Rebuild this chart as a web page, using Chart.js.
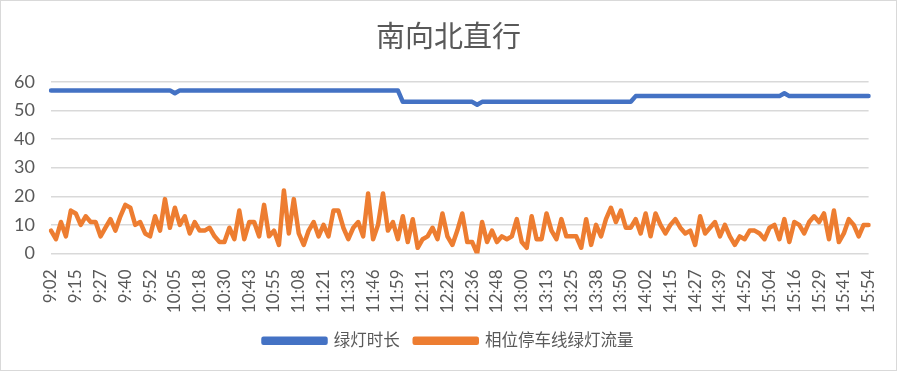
<!DOCTYPE html>
<html>
<head>
<meta charset="utf-8">
<script src="https://cdn.jsdelivr.net/npm/chart.js@4"></script>
<style>
  html, body { margin: 0; padding: 0; background: #fff; }
  #wrap { width: 897px; height: 371px; }
</style>
</head>
<body>
<div id="wrap"><canvas id="chart" width="897" height="371"></canvas></div>
<script>
'use strict';

// tick labels shown on the x axis (one every 5 signal cycles)
const timeLabels = [
  '9:02', '9:15', '9:27', '9:40', '9:52', '10:05', '10:18', '10:30', '10:43', '10:55',
  '11:08', '11:21', '11:33', '11:46', '11:59', '12:11', '12:23', '12:36', '12:48', '13:00',
  '13:13', '13:25', '13:38', '13:50', '14:02', '14:15', '14:27', '14:39', '14:52', '15:04',
  '15:16', '15:29', '15:41', '15:54',
];
const LABEL_EVERY = 5;

// 绿灯时长
const greenTime = [
  57, 57, 57, 57, 57, 57, 57, 57, 57, 57,
  57, 57, 57, 57, 57, 57, 57, 57, 57, 57,
  57, 57, 57, 57, 57, 56, 57, 57, 57, 57,
  57, 57, 57, 57, 57, 57, 57, 57, 57, 57,
  57, 57, 57, 57, 57, 57, 57, 57, 57, 57,
  57, 57, 57, 57, 57, 57, 57, 57, 57, 57,
  57, 57, 57, 57, 57, 57, 57, 57, 57, 57,
  57, 53, 53, 53, 53, 53, 53, 53, 53, 53,
  53, 53, 53, 53, 53, 53, 52, 53, 53, 53,
  53, 53, 53, 53, 53, 53, 53, 53, 53, 53,
  53, 53, 53, 53, 53, 53, 53, 53, 53, 53,
  53, 53, 53, 53, 53, 53, 53, 53, 55, 55,
  55, 55, 55, 55, 55, 55, 55, 55, 55, 55,
  55, 55, 55, 55, 55, 55, 55, 55, 55, 55,
  55, 55, 55, 55, 55, 55, 55, 55, 56, 55,
  55, 55, 55, 55, 55, 55, 55, 55, 55, 55,
  55, 55, 55, 55, 55, 55,
];

// 相位停车线绿灯流量
const greenFlow = [
  8, 5, 11, 6, 15, 14, 10, 13, 11, 11,
  6, 9, 12, 8, 13, 17, 16, 10, 11, 7,
  6, 13, 8, 19, 9, 16, 10, 13, 7, 11,
  8, 8, 9, 6, 4, 4, 9, 5, 15, 5,
  11, 11, 6, 17, 6, 8, 3, 22, 7, 19,
  7, 3, 8, 11, 6, 10, 6, 15, 15, 9,
  5, 9, 11, 6, 21, 5, 10, 21, 8, 11,
  5, 13, 4, 12, 2, 5, 6, 9, 5, 14,
  6, 3, 8, 14, 4, 4, 0, 11, 4, 8,
  4, 6, 5, 6, 12, 4, 2, 13, 5, 5,
  14, 8, 5, 12, 6, 6, 6, 2, 12, 3,
  10, 6, 12, 16, 11, 15, 9, 9, 12, 7,
  14, 6, 14, 10, 7, 10, 12, 9, 7, 8,
  3, 13, 7, 9, 11, 6, 10, 6, 3, 6,
  5, 8, 8, 7, 5, 9, 10, 5, 12, 4,
  11, 10, 7, 11, 13, 11, 14, 5, 15, 4,
  7, 12, 10, 6, 10, 10,
];

const yTicks = { min: 0, max: 60, step: 10 };

const TEXT_COLOR = '#595959';
const GRID_COLOR = '#d9d9d9';
const FONT = "Lato, 'Noto Sans CJK SC', sans-serif";

const categories = greenFlow.map((_, i) =>
  i % LABEL_EVERY === 0 ? (timeLabels[i / LABEL_EVERY] || '') : ''
);

const chartFrame = {
  id: 'chartFrame',
  beforeDraw(chart) {
    const { ctx, width, height } = chart;
    ctx.save();
    ctx.fillStyle = '#ffffff';
    ctx.fillRect(0, 0, width, height);
    ctx.restore();
  },
  afterDraw(chart) {
    const { ctx, width, height } = chart;
    ctx.save();
    ctx.strokeStyle = GRID_COLOR;
    ctx.lineWidth = 1;
    ctx.strokeRect(0.5, 0.5, width - 1, height - 1);
    ctx.restore();
  },
};

Chart.defaults.font.family = FONT;
Chart.defaults.color = TEXT_COLOR;

new Chart(document.getElementById('chart').getContext('2d'), {
  type: 'line',
  data: {
    labels: categories,
    datasets: [
      {
        label: '绿灯时长',
        data: greenTime,
        borderColor: '#4472C4',
        backgroundColor: '#4472C4',
        borderWidth: 4.5,
        pointRadius: 0,
        tension: 0,
        borderCapStyle: 'round',
        borderJoinStyle: 'round',
      },
      {
        label: '相位停车线绿灯流量',
        data: greenFlow,
        borderColor: '#ED7D31',
        backgroundColor: '#ED7D31',
        borderWidth: 4.5,
        pointRadius: 0,
        tension: 0,
        borderCapStyle: 'round',
        borderJoinStyle: 'round',
      },
    ],
  },
  options: {
    responsive: false,
    animation: false,
    devicePixelRatio: 1,
    layout: { padding: { left: 0, right: 0, top: 0, bottom: 12 } },
    plugins: {
      title: {
        display: true,
        text: '南向北直行',
        color: TEXT_COLOR,
        font: { size: 29, weight: 'normal' },
        padding: { top: 20, bottom: 27 },
      },
      legend: {
        position: 'bottom',
        labels: {
          boxWidth: 62,
          boxHeight: 4,
          color: TEXT_COLOR,
          font: { size: 16.5 },
          padding: 15,
        },
      },
      tooltip: { enabled: false },
    },
    scales: {
      x: {
        ticks: {
          autoSkip: false,
          minRotation: 90,
          maxRotation: 90,
          padding: 8,
          color: TEXT_COLOR,
          font: { size: 17 },
        },
        grid: { display: false },
        border: { display: false },
        afterFit: s => { s.height = 64; },
      },
      y: {
        min: yTicks.min,
        max: yTicks.max,
        ticks: {
          stepSize: yTicks.step,
          padding: 16,
          color: TEXT_COLOR,
          font: { size: 18 },
        },
        grid: { color: GRID_COLOR, lineWidth: 1.5, drawTicks: false },
        border: { display: false },
        afterFit: s => { s.width = 51; },
      },
      // empty right-hand margin so the plot ends where the reference does
      spacer: {
        type: 'linear',
        position: 'right',
        display: true,
        ticks: { display: false },
        grid: { display: false, drawTicks: false },
        border: { display: false },
        afterFit: s => { s.width = 21; },
      },
    },
  },
  plugins: [chartFrame],
});
</script>
</body>
</html>
